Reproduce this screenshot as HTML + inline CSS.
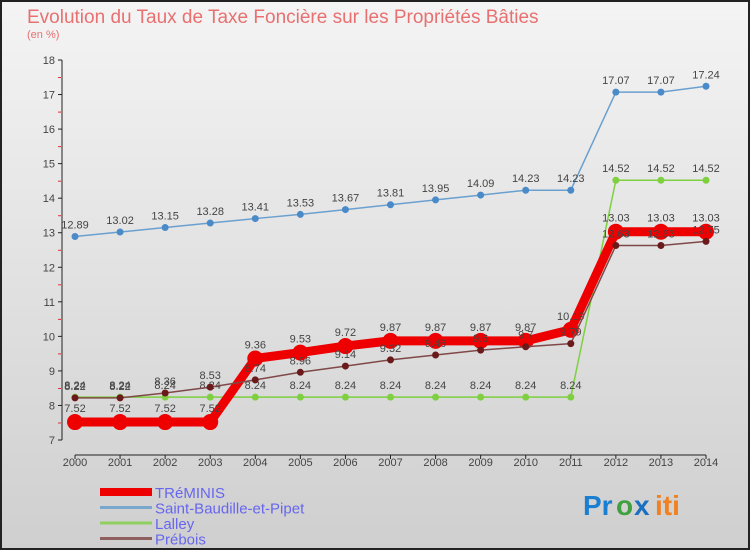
<!DOCTYPE html>
<html><head><meta charset="utf-8"><style>
body{margin:0;width:750px;height:550px;overflow:hidden;font-family:"Liberation Sans",sans-serif}
svg text{font-family:"Liberation Sans",sans-serif}
</style></head><body>
<svg id="c" width="750" height="550" xmlns="http://www.w3.org/2000/svg">
<defs><linearGradient id="bg" x1="0" y1="0" x2="0" y2="1"><stop offset="0" stop-color="#f4f4f4"/><stop offset="1" stop-color="#cfcfcf"/></linearGradient></defs>
<rect x="1" y="1" width="748" height="548" fill="url(#bg)" stroke="#222" stroke-width="2"/>
<text x="27" y="23" font-size="19" fill="#e87070">Evolution du Taux de Taxe Foncière sur les Propriétés Bâties</text>
<text x="27" y="38" font-size="11" fill="#e87070">(en %)</text>
<g id="axes"></g><g id="series"></g><g id="legend"></g>
<g font-size="28" font-weight="bold">
<text x="583" y="515" fill="#1a7fd0">Pr</text><text x="616" y="515" fill="#40a040">o</text><text x="634" y="515" fill="#1a6fc0">x</text><text x="655" y="515" fill="#f08020">iti</text>
</g>
</svg>
<script>
const years=[2000,2001,2002,2003,2004,2005,2006,2007,2008,2009,2010,2011,2012,2013,2014];
const yTicks=[7,8,9,10,11,12,13,14,15,16,17,18];
const treminis=[7.52,7.52,7.52,7.52,9.36,9.53,9.72,9.87,9.87,9.87,9.87,10.19,13.03,13.03,13.03];
const saintBaudille=[12.89,13.02,13.15,13.28,13.41,13.53,13.67,13.81,13.95,14.09,14.23,14.23,17.07,17.07,17.24];
const lalley=[8.24,8.24,8.24,8.24,8.24,8.24,8.24,8.24,8.24,8.24,8.24,8.24,14.52,14.52,14.52];
const prebois=[8.22,8.22,8.36,8.53,8.74,8.96,9.14,9.32,9.46,9.6,9.7,9.79,12.63,12.63,12.75];
const NS="http://www.w3.org/2000/svg";
const xs=i=>75+i*(706-75)/14;
const ys=v=>440-(v-7)*(380/11);
function mk(t,a,p){const e=document.createElementNS(NS,t);for(const k in a)e.setAttribute(k,a[k]);p.appendChild(e);return e;}
const ax=document.getElementById('axes');
let l=mk('line',{x1:62,y1:60,x2:62,y2:440,stroke:'#222'},ax);


l=mk('line',{x1:75,y1:455,x2:706,y2:455,stroke:'#222'},ax);


yTicks.forEach(v=>{const y=ys(v);
 mk('line',{x1:58,y1:y,x2:62,y2:y,stroke:'#222'},ax);
 if(v<18)mk('line',{x1:58,y1:y-17,x2:61,y2:y-17,stroke:'#e03030'},ax);
 const t=mk('text',{x:55,y:y+4,'font-size':11,fill:'#444','text-anchor':'end'},ax);t.textContent=v;
 
 });
years.forEach((yr,i)=>{const x=xs(i);
 mk('line',{x1:x,y1:455,x2:x,y2:459,stroke:'#222'},ax);
 const t=mk('text',{x:x,y:466,'font-size':11,fill:'#444','text-anchor':'middle'},ax);t.textContent=yr;
 
 });
const sg=document.getElementById('series');
const defs=[
 {d:lalley,c:'#7ed040',w:1.5,r:3.5,name:'lalley',fc:'#7ed040'},
 {d:saintBaudille,c:'#6aa0cf',w:1.5,r:3.5,name:'saint-baudille',fc:'#4a8ac8'},
 {d:treminis,c:'#ee0000',w:9,r:8,name:'treminis',fc:'#ee0000'},
 {d:prebois,c:'#804848',w:1.5,r:3.5,name:'prebois',fc:'#6a1a1a'}];
defs.forEach(s=>{const g=mk('g',{},sg);
 
 
 const pts=s.d.map((v,i)=>xs(i)+','+ys(v)).join(' ');
 mk('polyline',{points:pts,fill:'none',stroke:s.c,'stroke-width':s.w,'stroke-linejoin':'round'},g);
 s.d.forEach((v,i)=>{const p=mk('circle',{cx:xs(i),cy:ys(v),r:s.r,fill:s.fc},g);
  
  
  const t=mk('text',{x:xs(i),y:ys(v)-(s.r>5?10:8),'font-size':11,fill:'#444','text-anchor':'middle'},g);t.textContent=v;
  
  });
});
const lg=document.getElementById('legend');
const names=['TRéMINIS','Saint-Baudille-et-Pipet','Lalley','Prébois'];
const lc=['#ee0000','#7aa8cc','#90d060','#906060'];const lw=[8,3,3,3];
names.forEach((n,i)=>{const y=492+i*15.5;const g=mk('g',{},lg);
 
 
 mk('line',{x1:100,y1:y,x2:152,y2:y,stroke:lc[i],'stroke-width':lw[i]},g);
 const t=mk('text',{x:155,y:y+6,'font-size':15,fill:'#6666f0'},g);t.textContent=n;});
</script>
</body></html>
